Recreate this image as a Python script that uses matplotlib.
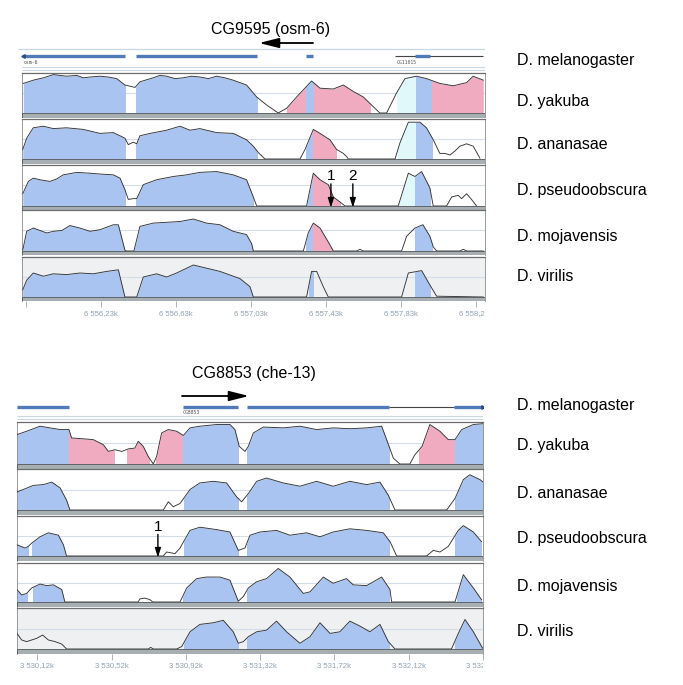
import numpy as np
import matplotlib.pyplot as plt
from matplotlib.patches import Rectangle
from matplotlib.transforms import Bbox, TransformedBbox

plt.rcParams['font.family'] = ['Liberation Sans', 'DejaVu Sans']

W, H = 683, 685

species = ['D. melanogaster', 'D. yakuba', 'D. ananasae',
           'D. pseudoobscura', 'D. mojavensis', 'D. virilis']

# ---------------- CG9595 (osm-6) region, positions are bp offsets from start ----------------
osm_start = 6555810
osm_end = 6558280
osm_ticks = [6555830, 6556230, 6556630, 6557030, 6557430, 6557830, 6558230]
osm_exons = [(7, 549), (608, 1252), (1515, 1554)]
cg11015_span = (1990, 2461)
cg11015_exons = [(2096, 2176)]
osm_marks = [(1648, '1'), (1765, '2')]  # arrows in D. pseudoobscura

osm_yak_x = [7, 60, 114, 167, 238, 292, 327, 363, 416, 460, 505, 549, 603, 629, 700, 736, 772, 816, 860, 905,
             949, 994, 1038, 1083, 1127, 1198, 1252, 1305, 1367, 1412, 1465, 1545, 1590, 1661, 1714, 1767, 1821,
             1856, 1909, 1945, 1998, 2043, 2105, 2158, 2229, 2300, 2372, 2407, 2461]
osm_yak_y = [87, 91, 94, 98, 96, 97, 94, 95, 96, 95, 93, 85, 82, 89, 94, 97, 96, 93, 94, 96,
             95, 93, 96, 94, 91, 85, 70, 60, 50, 56, 70, 90, 81, 80, 85, 77, 70,
             62, 50, 50, 75, 93, 96, 93, 87, 84, 88, 96, 91]
osm_yak_reg = [(0, 549, 'b'), (606, 1252, 'b'), (1412, 1515, 'p'), (1515, 1559, 'b'), (1559, 1856, 'p'),
               (1998, 2100, 'c'), (2100, 2187, 'b'), (2187, 2470, 'p')]

osm_ana_x = [4, 25, 60, 114, 167, 238, 327, 416, 487, 532, 549, 567, 594, 612, 629, 683, 772, 843, 896, 949,
             1038, 1127, 1198, 1234, 1261, 1296, 1483, 1510, 1554, 1590, 1643, 1678, 1714, 1732, 1741, 1990,
             2016, 2061, 2123, 2158, 2194, 2229, 2256, 2283, 2310, 2336, 2372, 2407, 2443]
osm_ana_y = [62, 76, 89, 91, 88, 89, 87, 82, 83, 78, 76, 68, 71, 69, 79, 82, 86, 91, 86, 88,
             83, 82, 74, 66, 58, 50, 50, 62, 87, 82, 74, 62, 57, 53, 50, 50,
             70, 96, 96, 89, 74, 57, 57, 55, 60, 66, 69, 66, 51]
osm_ana_reg = [(0, 549, 'b'), (606, 1252, 'b'), (1515, 1554, 'b'), (1554, 1675, 'p'),
               (2007, 2100, 'c'), (2100, 2187, 'b')]

osm_pse_x = [4, 34, 60, 96, 149, 185, 220, 292, 363, 416, 487, 523, 549, 567, 594, 612, 647, 718, 807, 878,
             949, 1038, 1127, 1198, 1234, 1252, 1518, 1554, 1590, 1634, 1661, 1696, 1723, 2007, 2061, 2096,
             2132, 2176, 2194, 2265, 2292, 2327, 2345, 2372, 2398, 2425]
osm_pse_y = [65, 80, 84, 82, 80, 83, 88, 91, 90, 89, 88, 84, 70, 58, 59, 59, 76, 82, 86, 88,
             91, 92, 88, 82, 61, 50, 50, 90, 82, 76, 61, 55, 50, 50, 90, 86,
             92, 72, 50, 50, 61, 63, 59, 65, 58, 50]
osm_pse_reg = [(0, 549, 'b'), (606, 1234, 'b'), (1515, 1554, 'b'), (1554, 1696, 'p'),
               (2007, 2096, 'c'), (2096, 2176, 'b')]

osm_moj_x = [4, 25, 60, 96, 132, 167, 212, 256, 309, 363, 416, 487, 514, 549, 558, 597, 629, 700, 772, 843,
             914, 985, 1056, 1127, 1198, 1225, 1234, 1501, 1527, 1554, 1590, 1634, 1661, 1785, 1803, 1821,
             2025, 2052, 2096, 2139, 2176, 2194, 2212, 2336, 2354, 2372, 2461]
osm_moj_y = [51, 74, 78, 75, 72, 74, 75, 81, 78, 74, 76, 82, 82, 51, 50, 50, 80, 84, 85, 86,
             89, 84, 82, 74, 70, 59, 50, 50, 72, 84, 78, 61, 50, 50, 52, 50,
             50, 68, 78, 82, 68, 55, 50, 50, 52, 50, 50]
osm_moj_reg = [(0, 549, 'b'), (597, 1234, 'b'), (1515, 1554, 'b'), (1554, 1661, 'p'), (2096, 2185, 'b')]

osm_vir_x = [4, 25, 60, 114, 167, 238, 309, 380, 452, 514, 549, 612, 647, 718, 772, 825, 914, 985, 1056, 1163,
             1216, 1234, 1518, 1545, 1572, 1607, 1634, 2025, 2061, 2132, 2176, 2212, 2461]
osm_vir_y = [59, 71, 80, 76, 79, 78, 80, 79, 82, 84, 50, 50, 75, 79, 75, 80, 90, 86, 82, 73,
             63, 50, 50, 82, 82, 63, 50, 50, 80, 83, 65, 51, 50]
osm_vir_reg = [(0, 549, 'b'), (612, 1234, 'b'), (1532, 1554, 'b'), (2096, 2176, 'b')]

# ---------------- CG8853 (che-13) region ----------------
che_start = 3530010
che_end = 3532520
che_ticks = [3530120, 3530520, 3530920, 3531320, 3531720, 3532120, 3532520]
che_exons = [(0, 280), (892, 1188), (1239, 2005), (2355, 2511)]
che_intron = (2005, 2355)
che_marks = [(759, '1')]

che_yak_x = [0, 52, 124, 178, 232, 280, 294, 357, 411, 465, 492, 528, 564, 600, 635, 653, 680, 707, 734, 752,
             779, 815, 860, 896, 932, 985, 1075, 1147, 1174, 1197, 1228, 1246, 1273, 1327, 1434, 1524, 1614,
             1703, 1793, 1883, 1964, 1991, 2027, 2062, 2116, 2143, 2182, 2224, 2278, 2323, 2359, 2395, 2458, 2511]
che_yak_y = [85, 89, 95, 93, 91, 91, 81, 80, 79, 73, 65, 67, 65, 68, 69, 77, 71, 59, 50, 59,
             87, 91, 89, 84, 93, 95, 97, 97, 91, 71, 65, 71, 87, 94, 93, 95, 91,
             93, 92, 93, 95, 79, 57, 50, 50, 61, 71, 97, 89, 79, 79, 91, 97, 98]
che_yak_reg = [(0, 280, 'b'), (280, 522, 'p'), (594, 713, 'p'), (749, 896, 'p'), (896, 1192, 'b'),
               (1240, 2005, 'b'), (2167, 2360, 'p'), (2360, 2515, 'b')]

che_ana_x = [0, 34, 88, 142, 187, 232, 267, 285, 788, 815, 842, 878, 932, 985, 1057, 1129, 1183, 1210, 1246,
             1291, 1344, 1434, 1524, 1614, 1703, 1793, 1883, 1955, 2000, 2036, 2314, 2359, 2404, 2439, 2494, 2511]
che_ana_y = [72, 75, 80, 81, 84, 77, 62, 50, 50, 60, 54, 58, 75, 83, 85, 83, 66, 60, 70,
             85, 89, 83, 79, 85, 79, 85, 81, 84, 68, 50, 50, 64, 87, 93, 87, 84]
che_ana_reg = [(0, 280, 'b'), (901, 1192, 'b'), (1240, 2005, 'b'), (2360, 2515, 'b')]

che_pse_x = [0, 43, 61, 79, 124, 169, 223, 250, 267, 788, 806, 851, 878, 932, 985, 1075, 1147, 1192, 1228,
             1255, 1309, 1398, 1470, 1560, 1632, 1703, 1793, 1883, 1973, 2009, 2045, 2206, 2242, 2278, 2323,
             2377, 2404, 2458, 2502]
che_pse_y = [64, 60, 62, 66, 74, 79, 76, 64, 50, 50, 55, 53, 60, 82, 86, 83, 80, 57, 60,
             76, 80, 82, 76, 79, 74, 80, 84, 82, 79, 68, 50, 50, 57, 55, 62,
             82, 88, 80, 68]
che_pse_reg = [(0, 61, 'b'), (79, 258, 'b'), (901, 1192, 'b'), (1240, 2005, 'b'), (2360, 2511, 'b')]

che_moj_x = [0, 25, 52, 79, 124, 160, 196, 241, 258, 653, 662, 689, 716, 731, 878, 914, 968, 1021, 1093, 1147,
             1192, 1219, 1246, 1291, 1344, 1407, 1470, 1542, 1578, 1650, 1703, 1775, 1811, 1883, 1964, 2009,
             2018, 2359, 2404, 2458, 2502]
che_moj_y = [66, 59, 61, 68, 73, 71, 72, 66, 50, 50, 54, 55, 53, 50, 50, 68, 80, 82, 82, 78,
             51, 57, 68, 76, 80, 93, 82, 61, 63, 82, 74, 80, 72, 71, 82, 66,
             50, 50, 85, 68, 53]
che_moj_reg = [(0, 52, 'b'), (88, 250, 'b'), (892, 1192, 'b'), (1240, 2005, 'b'), (2371, 2508, 'b')]

che_vir_x = [0, 25, 52, 79, 106, 138, 169, 205, 241, 267, 707, 720, 734, 860, 887, 932, 985, 1057, 1111, 1165,
             1192, 1219, 1246, 1291, 1344, 1398, 1452, 1524, 1578, 1632, 1686, 1739, 1793, 1847, 1901, 1955,
             2000, 2036, 2340, 2377, 2413, 2458, 2508]
che_vir_y = [69, 61, 59, 61, 63, 67, 61, 59, 56, 50, 50, 52, 50, 50, 53, 71, 80, 82, 85, 71,
             57, 59, 65, 71, 73, 84, 71, 57, 65, 82, 69, 71, 84, 78, 71, 80,
             59, 50, 50, 69, 86, 71, 51]
che_vir_reg = [(901, 1192, 'b'), (1240, 2005, 'b'), (2360, 2508, 'b')]

fill_colors = {'b': '#a9c4f1', 'p': '#f1abc1', 'c': '#e1f8fa'}

fig = plt.figure(figsize=(W / 100, H / 100), dpi=100)
overlay = fig.add_axes([0, 0, 1, 1])
overlay.set_xlim(0, W)
overlay.set_ylim(H, 0)
overlay.axis('off')


def pix_axes(x0, x1, y0, y1):
    return fig.add_axes([x0 / W, 1 - y1 / H, (x1 - x0) / W, (y1 - y0) / H])


def tick_label(v):
    return f"{v // 1000000} {(v // 1000) % 1000:03d},{(v % 1000) // 10:02d}k"


def draw_track(x0, x1, top, base, start, end, xs, ys, regions, shaded, ticks=None, marks=None):
    bar = 4.5
    ax = pix_axes(x0, x1, top, base + bar)
    ylo = 50 - bar * 50 / (base - top)
    ax.set_xlim(start, end)
    ax.set_ylim(ylo, 100)
    ax.set_facecolor('#eef0f1' if shaded else 'white')
    ax.axhline(75, color='#d3deea', lw=0.8, zorder=1)
    x = start + np.array(xs)
    y = np.array(ys)
    for r0, r1, kind in regions:
        poly = ax.fill_between(x, 50, y, color=fill_colors[kind], lw=0, zorder=2)
        poly.set_clip_path(Rectangle((start + r0, 50), r1 - r0, 50, transform=ax.transData))
    ax.plot(x, y, color='#333333', lw=0.65, zorder=3)
    ax.axhspan(ylo, 50, facecolor='#a7afb3', edgecolor='#4f5458', lw=0.6, zorder=4)
    ax.set_yticks([])
    ax.spines['top'].set_color('#6d6d6d')
    ax.spines['top'].set_linewidth(0.9)
    for s in ['left', 'right']:
        ax.spines[s].set_color('#8a8a8a')
        ax.spines[s].set_linewidth(0.6)
    ax.spines['bottom'].set_visible(False)
    if ticks is None:
        ax.set_xticks([])
    else:
        labels = [tick_label(t) for t in ticks]
        if ticks[0] - start < 60:
            labels[0] = ''
        ax.set_xticks(ticks)
        ax.set_xticklabels(labels)
        ax.tick_params(axis='x', length=4, width=0.6, color='#a0a8ad', labelsize=5.6,
                       labelcolor='#8fa2b4', pad=2)
        clip = TransformedBbox(Bbox([[0, -3], [1, 1]]), ax.transAxes)
        for lab in ax.get_xticklabels():
            lab.set_clip_on(True)
            lab.set_clip_box(clip)
    if marks:
        for off, s in marks:
            xm = start + off
            ax.annotate('', xy=(xm, 48), xytext=(xm, 77),
                        arrowprops=dict(arrowstyle='-|>,head_length=0.7,head_width=0.22',
                                        color='black', lw=1.0, mutation_scale=8, shrinkA=0, shrinkB=0),
                        zorder=6)
            ax.text(xm, 86, s, ha='center', va='center', fontsize=11, zorder=6)
    return ax


def gene_axes(x0, x1, y0, y1, start, end):
    ax = pix_axes(x0, x1, y0, y1)
    ax.set_xlim(start, end)
    ax.set_ylim(y1, y0)
    ax.axis('off')
    return ax


exon_color = '#4f7bbb'
light_line = '#c9d6e3'

# ---------- panel 1 ----------
p1_x0, p1_x1 = 22, 485
p1_tops = [73, 119, 165, 210, 257]
p1_bases = [113, 159, 206, 251, 297]

overlay.text(271, 29, 'CG9595 (osm-6)', ha='center', va='center', fontsize=11.5)
overlay.annotate('', xy=(259, 43), xytext=(313, 43),
                 arrowprops=dict(arrowstyle='-|>,head_length=1.0,head_width=0.25', color='black',
                                 lw=1.3, mutation_scale=12, shrinkA=0, shrinkB=0))

g1 = gene_axes(18, p1_x1, 45, 72, osm_start - 21, osm_end)
g1.hlines(49, osm_start - 21, osm_end, color=light_line, lw=0.9)
for a, b in osm_exons:
    g1.hlines(56, osm_start + a, osm_start + b, color=exon_color, lw=2.4)
g1.plot(osm_start + osm_exons[0][0], 56, marker='<', ms=2.5, color='#2a4f88')
g1.hlines(56, osm_start + cg11015_span[0], osm_start + cg11015_span[1], color='#444444', lw=0.8)
for a, b in cg11015_exons:
    g1.hlines(56, osm_start + a, osm_start + b, color=exon_color, lw=2.4)
g1.text(osm_start + 7, 62, 'osm-6', fontsize=3.5, color='#555555', va='center', family='DejaVu Sans Mono')
g1.text(osm_start + cg11015_span[0] + 10, 62, 'CG11015', fontsize=3.5, color='#555555', va='center',
        family='DejaVu Sans Mono')
g1.hlines([67, 70], osm_start, osm_end, color=light_line, lw=0.8)

p1_data = [(osm_yak_x, osm_yak_y, osm_yak_reg), (osm_ana_x, osm_ana_y, osm_ana_reg),
           (osm_pse_x, osm_pse_y, osm_pse_reg), (osm_moj_x, osm_moj_y, osm_moj_reg),
           (osm_vir_x, osm_vir_y, osm_vir_reg)]
for i, (xs, ys, reg) in enumerate(p1_data):
    draw_track(p1_x0, p1_x1, p1_tops[i], p1_bases[i], osm_start, osm_end, xs, ys, reg,
               shaded=(i == 4), ticks=osm_ticks if i == 4 else None,
               marks=osm_marks if i == 2 else None)

p1_label_y = [60, 101, 144, 190, 236, 276]
for name, yy in zip(species, p1_label_y):
    overlay.text(517, yy, name, ha='left', va='center', fontsize=11.5)

# ---------- panel 2 ----------
p2_x0, p2_x1 = 17, 483
p2_tops = [422, 469, 516, 563, 608]
p2_bases = [464, 510, 556, 602, 649]

overlay.text(254, 373, 'CG8853 (che-13)', ha='center', va='center', fontsize=11.5)
overlay.annotate('', xy=(249, 396), xytext=(182, 396),
                 arrowprops=dict(arrowstyle='-|>,head_length=1.0,head_width=0.25', color='black',
                                 lw=1.3, mutation_scale=12, shrinkA=0, shrinkB=0))

g2 = gene_axes(p2_x0, p2_x1, 398, 421, che_start, che_end)
for a, b in che_exons:
    g2.hlines(407, che_start + a, che_start + b, color=exon_color, lw=2.4)
g2.hlines(407, che_start + che_intron[0], che_start + che_intron[1], color='#444444', lw=0.8)
g2.plot(che_start + che_exons[-1][1], 407, marker='>', ms=2.5, color='#2a4f88')
g2.text(che_start + che_exons[1][0], 412.5, 'CG8853', fontsize=3.5, color='#555555', va='center',
        family='DejaVu Sans Mono')
g2.hlines([416, 419], che_start, che_end, color=light_line, lw=0.8)

p2_data = [(che_yak_x, che_yak_y, che_yak_reg), (che_ana_x, che_ana_y, che_ana_reg),
           (che_pse_x, che_pse_y, che_pse_reg), (che_moj_x, che_moj_y, che_moj_reg),
           (che_vir_x, che_vir_y, che_vir_reg)]
for i, (xs, ys, reg) in enumerate(p2_data):
    draw_track(p2_x0, p2_x1, p2_tops[i], p2_bases[i], che_start, che_end, xs, ys, reg,
               shaded=(i == 4), ticks=che_ticks if i == 4 else None,
               marks=che_marks if i == 2 else None)

p2_label_y = [405, 445, 493, 539, 587, 632]
for name, yy in zip(species, p2_label_y):
    overlay.text(517, yy, name, ha='left', va='center', fontsize=11.5)

fig.savefig('out.png', dpi=100)
